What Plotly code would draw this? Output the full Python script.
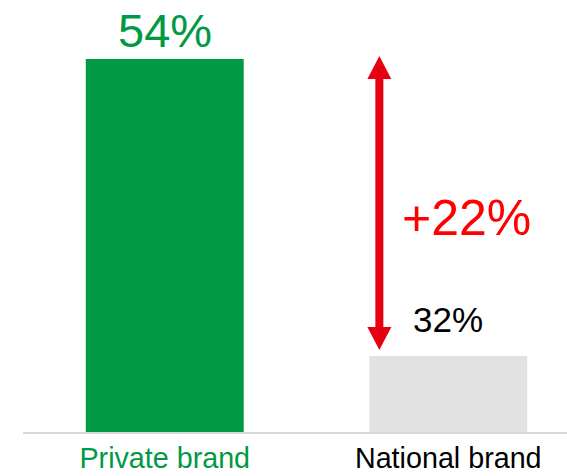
import plotly.graph_objects as go

categories = ["Private brand", "National brand"]
values = [54, 32]
value_labels = ["54%", "32%"]
diff_label = "+22%"
bar_colors = ["#009944", "#e2e2e2"]
label_colors = ["#009944", "#000000"]
value_label_colors = ["#009944", "#000000"]

FONT = "Arial, Liberation Sans, sans-serif"
x_pos = list(range(len(categories)))

fig = go.Figure()
fig.add_trace(go.Bar(
    x=x_pos, y=values, width=0.557,
    marker=dict(color=bar_colors, line=dict(width=0)),
    base=0, hoverinfo="skip",
))

annotations = []
label_shift = [29, 36.5]
label_sizes = [47, 35]
for i, (v, t) in enumerate(zip(values, value_labels)):
    annotations.append(dict(
        x=x_pos[i], y=v, xref="x", yref="y", text=t, showarrow=False,
        yanchor="middle", xanchor="center", yshift=label_shift[i],
        font=dict(family=FONT, size=label_sizes[i], color=value_label_colors[i]),
    ))

annotations.append(dict(
    x=1.065, y=(values[0] + values[1]) / 2 - 0.75, xref="x", yref="y",
    text=diff_label, showarrow=False, xanchor="center", yanchor="middle",
    font=dict(family=FONT, size=50, color="#ff0000"),
))

# double arrow between the two values
ax = 0.757
arrow_col = "#e60012"
top_tip = values[0] + 0.22
bot_tip = values[1] + 0.44
head_len = 1.70
head_half = 0.0423
shapes = [
    dict(type="line", xref="x", yref="y", x0=ax, x1=ax,
         y0=bot_tip + head_len - 0.1, y1=top_tip - head_len + 0.1,
         line=dict(color=arrow_col, width=8)),
    dict(type="path", xref="x", yref="y",
         path=f"M {ax - head_half},{top_tip - head_len} L {ax + head_half},{top_tip - head_len} L {ax},{top_tip} Z",
         fillcolor=arrow_col, line=dict(width=0)),
    dict(type="path", xref="x", yref="y",
         path=f"M {ax - head_half},{bot_tip + head_len} L {ax + head_half},{bot_tip + head_len} L {ax},{bot_tip} Z",
         fillcolor=arrow_col, line=dict(width=0)),
]

ticktext = [f'<span style="color:{c}">{t}</span>' for t, c in zip(categories, label_colors)]

fig.update_layout(
    width=567, height=476,
    margin=dict(l=23, r=0, t=0, b=44, pad=0),
    paper_bgcolor="white", plot_bgcolor="white",
    showlegend=False,
    annotations=annotations, shapes=shapes,
    xaxis=dict(range=[-0.5, -0.5 + 544 / 283.5], tickvals=x_pos, ticktext=ticktext,
               showgrid=False, zeroline=False, showline=True, linecolor="#d9d9d9",
               linewidth=1.5, ticks="", fixedrange=True, automargin=False,
               tickfont=dict(family=FONT, size=28.7, color="#000000")),
    yaxis=dict(range=[26.37, 58.37], visible=False, showgrid=False, zeroline=False,
               fixedrange=True),
)

fig.write_html("out.html", config={"displayModeBar": False})
